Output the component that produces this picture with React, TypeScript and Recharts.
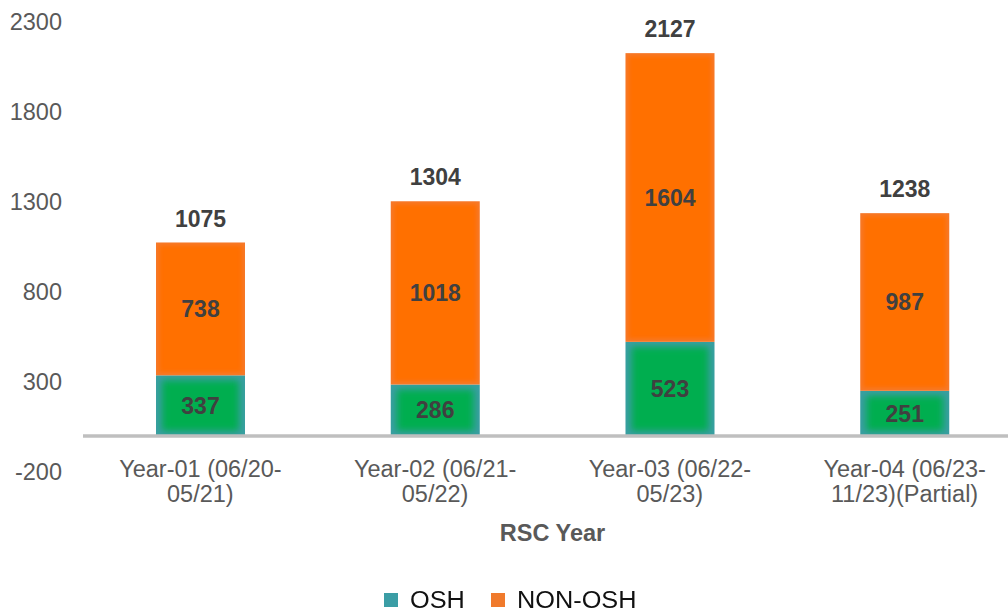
import React from "react";
import { BarChart, Bar, XAxis, YAxis, ReferenceLine, LabelList, Legend } from "recharts";

const line1 = ["Year-01 (06/20-", "Year-02 (06/21-", "Year-03 (06/22-", "Year-04 (06/23-"];
const line2 = ["05/21)", "05/22)", "05/23)", "11/23)(Partial)"];
const categories = line1.map((l, i) => l + line2[i]);
const oshValues = [337, 286, 523, 251];
const nonOshValues = [738, 1018, 1604, 987];
const totalValues = [1075, 1304, 2127, 1238];
const yTicks = [-200, 300, 800, 1300, 1800, 2300];
const seriesNames = ["OSH", "NON-OSH"];
const legendColors = ["#3B9DA5", "#F07A2C"];

const data = categories.map((c, i) => ({
  name: c,
  osh: oshValues[i],
  non: nonOshValues[i],
  total: totalValues[i],
}));

const FONT = "'Liberation Sans', Arial, Helvetica, sans-serif";

const OshShape = (props: any) => {
  const { x, y, width, height, index } = props;
  if (!height || height <= 0) return null;
  const id = `clip-osh-${index}`;
  return (
    <g>
      <defs>
        <clipPath id={id}>
          <rect x={x} y={y} width={width} height={height} />
        </clipPath>
      </defs>
      <rect x={x} y={y} width={width} height={height} fill="#3A9EA3" />
      <g clipPath={`url(#${id})`}>
        <rect x={x + 6} y={y + 5} width={width - 12} height={height - 10} fill="#03AE50" filter="url(#softBlur)" />
      </g>
    </g>
  );
};

const NonShape = (props: any) => {
  const { x, y, width, height, index } = props;
  if (!height || height <= 0) return null;
  const id = `clip-non-${index}`;
  return (
    <g>
      <defs>
        <clipPath id={id}>
          <rect x={x} y={y} width={width} height={height} />
        </clipPath>
      </defs>
      <rect x={x} y={y} width={width} height={height} fill="#F6792B" />
      <g clipPath={`url(#${id})`}>
        <rect x={x + 3} y={y + 3} width={width - 6} height={height - 6} fill="#FF6F00" filter="url(#softBlur2)" />
      </g>
    </g>
  );
};

const XTick = (props: any) => {
  const { x, y, payload } = props;
  const i = payload.index;
  return (
    <g>
      <text x={x} y={y + 5} textAnchor="middle" fill="#595959" fontSize={23.5} fontFamily={FONT}>
        {line1[i]}
      </text>
      <text x={x} y={y + 30} textAnchor="middle" fill="#595959" fontSize={23.5} fontFamily={FONT}>
        {line2[i]}
      </text>
    </g>
  );
};

const TotalLabel = (props: any) => {
  const { x, y, width, index } = props;
  return (
    <text x={x + width / 2} y={y - 16} textAnchor="middle" fill="#404040" fontSize={23} fontWeight="bold" fontFamily={FONT}>
      {totalValues[index]}
    </text>
  );
};

const LegendContent = () => (
  <div style={{ display: "flex", justifyContent: "center", alignItems: "center", height: 30, paddingTop: 4, boxSizing: "border-box", fontFamily: FONT }}>
    {seriesNames.map((n, i) => (
      <div key={n} style={{ display: "flex", alignItems: "center", marginRight: i === 0 ? 26 : 0 }}>
        <div style={{ width: 14, height: 14, background: legendColors[i], marginRight: 12 }} />
        <span style={{ fontSize: 23, color: "#111", display: "inline-block", transform: "scaleX(1.1)", transformOrigin: "left center", width: n === "OSH" ? 55 : 122, whiteSpace: "nowrap" }}>
          {n}
        </span>
      </div>
    ))}
  </div>
);

export default function App() {
  return (
    <div style={{ position: "fixed", left: 0, top: 0, width: 1008, height: 613, overflow: "hidden", background: "#fff" }}>
      <BarChart width={1022} height={613} data={data} margin={{ top: 22, right: 0, bottom: 0, left: 0 }}>
        <defs>
          <filter id="softBlur" x="-30%" y="-30%" width="160%" height="160%">
            <feGaussianBlur stdDeviation="3.5" />
          </filter>
          <filter id="softBlur2" x="-30%" y="-30%" width="160%" height="160%">
            <feGaussianBlur stdDeviation="2" />
          </filter>
        </defs>
        <YAxis
          width={83}
          domain={[-200, 2300]}
          ticks={yTicks}
          type="number"
          allowDataOverflow
          axisLine={false}
          tickLine={false}
          tickSize={0}
          tickMargin={21}
          tick={{ fill: "#595959", fontSize: 23.5, fontFamily: FONT }}
        />
        <XAxis
          dataKey="name"
          height={111}
          axisLine={false}
          tickLine={false}
          tickSize={0}
          tickMargin={0}
          interval={0}
          tick={<XTick />}
          label={{
            content: (p: any) => (
              <text
                x={p.viewBox.x + p.viewBox.width / 2}
                y={p.viewBox.y + 69}
                textAnchor="middle"
                fill="#595959"
                fontSize={23.5}
                fontWeight="bold"
                fontFamily={FONT}
              >
                RSC Year
              </text>
            ),
          }}
        />
        <Legend verticalAlign="bottom" height={30} content={<LegendContent />} />
        <Bar dataKey="osh" name="OSH" stackId="a" fill="#00B050" barSize={89} shape={<OshShape />} isAnimationActive={false}>
          <LabelList dataKey="osh" position="center" fill="#404040" fontSize={23} fontWeight="bold" fontFamily={FONT} />
        </Bar>
        <Bar dataKey="non" name="NON-OSH" stackId="a" fill="#FF7000" barSize={89} shape={<NonShape />} isAnimationActive={false}>
          <LabelList dataKey="non" position="center" fill="#404040" fontSize={23} fontWeight="bold" fontFamily={FONT} />
          <LabelList dataKey="total" content={<TotalLabel />} />
        </Bar>
        <ReferenceLine y={0} stroke="#BFBFBF" strokeWidth={3.5} />
      </BarChart>
    </div>
  );
}
